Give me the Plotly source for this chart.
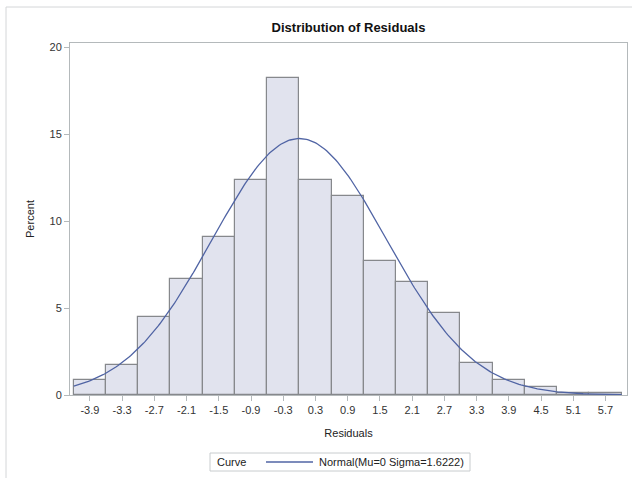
import numpy as np
import plotly.graph_objects as go

# Histogram of residuals: bin midpoints (width 0.6) and percent of observations
bin_mid = [-3.9, -3.3, -2.7, -2.1, -1.5, -0.9, -0.3, 0.3, 0.9, 1.5, 2.1, 2.7, 3.3, 3.9, 4.5, 5.1, 5.7]
percent = [0.85, 1.7, 4.5, 6.7, 9.1, 12.35, 18.25, 12.35, 11.45, 7.7, 6.5, 4.7, 1.85, 0.85, 0.45, 0.1, 0.1]
bin_width = 0.6

# Fitted normal density parameters
mu = 0.0
sigma = 1.6222

tick_vals = bin_mid
tick_text = ["%.1f" % v for v in bin_mid]

# Normal curve scaled to percent per bin
xc = np.linspace(-4.2, 6.0, 300)
yc = 100 * bin_width * np.exp(-0.5 * ((xc - mu) / sigma) ** 2) / (sigma * np.sqrt(2 * np.pi))

FONT = "Liberation Sans, Arial, sans-serif"
AXIS_GREY = "#B4B9BB"
CURVE = "#5064A4"
curve_name = "Normal(Mu=0 Sigma=1.6222)"

W, H = 632, 478
L, R, T, B = 70, 5, 43, 83
PW, PH = W - L - R, H - T - B


def px(x):
    return (x - L) / PW


def py(y):
    return (H - B - y) / PH


fig = go.Figure()
fig.add_trace(go.Bar(
    x=bin_mid, y=percent, width=bin_width,
    marker=dict(color="#E1E3EE", line=dict(color="#86888C", width=1.2)),
    showlegend=False, hoverinfo="x+y",
))
fig.add_trace(go.Scatter(
    x=xc, y=yc, mode="lines",
    line=dict(color=CURVE, width=1.3),
    name=curve_name, showlegend=False,
))

fig.update_layout(
    width=W, height=H,
    margin=dict(l=L, r=R, t=T, b=B, autoexpand=False),
    paper_bgcolor="white", plot_bgcolor="white",
    font=dict(family=FONT, size=11, color="#333333"),
    title=dict(
        text="<b>Distribution of Residuals</b>",
        x=0.5, xref="paper", xanchor="center",
        y=1 - 27 / H, yref="container", yanchor="middle",
        font=dict(family=FONT, size=13, color="#111111"),
    ),
    bargap=0,
    xaxis=dict(
        range=[-4.27, 6.10], automargin=False,
        tickmode="array", tickvals=tick_vals, ticktext=tick_text,
        ticks="outside", ticklen=5, tickcolor=AXIS_GREY,
        showline=True, linecolor=AXIS_GREY, linewidth=1, mirror=True,
        showgrid=False, zeroline=False,
        tickfont=dict(size=11, color="#333333"),
        title=dict(text="Residuals", standoff=14, font=dict(size=11, color="#222222")),
    ),
    yaxis=dict(
        range=[0, 20.25], automargin=False,
        tickvals=[0, 5, 10, 15, 20],
        ticks="outside", ticklen=5, tickcolor=AXIS_GREY,
        showline=True, linecolor=AXIS_GREY, linewidth=1, mirror=True,
        showgrid=False, zeroline=False,
        tickfont=dict(size=11, color="#333333"),
        title=dict(text="Percent", standoff=12, font=dict(size=11, color="#222222")),
    ),
    showlegend=False,
    shapes=[
        # outer graph border (left and top edges)
        dict(type="line", xref="paper", yref="paper",
             x0=px(6), x1=px(6), y0=py(7), y1=py(480),
             line=dict(color="#D4D6D8", width=1)),
        dict(type="line", xref="paper", yref="paper",
             x0=px(6), x1=px(634), y0=py(7), y1=py(7),
             line=dict(color="#D4D6D8", width=1)),
        # legend box and curve sample
        dict(type="rect", xref="paper", yref="paper",
             x0=px(210), x1=px(470), y0=py(453), y1=py(471),
             line=dict(color="#C8CCCE", width=1), fillcolor="rgba(0,0,0,0)"),
        dict(type="line", xref="paper", yref="paper",
             x0=px(266), x1=px(313), y0=py(462), y1=py(462),
             line=dict(color=CURVE, width=1.3)),
    ],
    annotations=[
        dict(text="Curve", xref="paper", yref="paper", x=px(215), y=py(462),
             xanchor="left", yanchor="middle", showarrow=False,
             font=dict(size=11, color="#222222")),
        dict(text=curve_name, xref="paper", yref="paper", x=px(317), y=py(462),
             xanchor="left", yanchor="middle", showarrow=False,
             font=dict(size=11, color="#222222")),
    ],
)

fig.write_html("out.html")
